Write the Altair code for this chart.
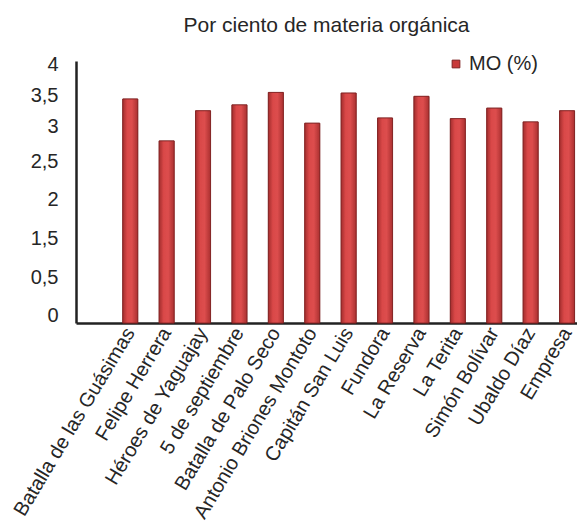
import altair as alt
import pandas as pd

# Organic matter (%) per farm
farms = [
    "Batalla de las Guásimas", "Felipe Herrera", "Héroes de Yaguajay",
    "5 de septiembre", "Batalla de Palo Seco", "Antonio Briones Montoto",
    "Capitán San Luis", "Fundora", "La Reserva", "La Terita",
    "Simón Bolívar", "Ubaldo Díaz", "Empresa",
]
mo_values = [3.42, 2.78, 3.24, 3.33, 3.52, 3.05, 3.51, 3.13, 3.46, 3.12, 3.28, 3.07, 3.24]
series_name = "MO (%)"

# y-axis labels and the values where they sit
ytick_labels = ["0", "0,5", "1,5", "2", "2,5", "3", "3,5", "4"]
ytick_values = [0.12, 0.70, 1.29, 1.88, 2.46, 3.0, 3.48, 3.94]

df = pd.DataFrame({"finca": farms, "mo": mo_values, "serie": series_name})

label_expr = " : ".join(
    f"abs(datum.value - {v}) < 0.001 ? '{t}'" for v, t in zip(ytick_values, ytick_labels)
) + " : ''"

FONT = "Liberation Sans"
TXT = "#262626"

x_enc = alt.X(
    "finca:N",
    sort=farms,
    title=None,
    scale=alt.Scale(paddingInner=0.588, paddingOuter=0.676, align=0.95),
    axis=alt.Axis(
        labelAngle=-59, labelFontSize=20, labelFont=FONT, labelColor=TXT,
        ticks=False, domainColor="#222222", domainWidth=2.5, labelPadding=6,
        labelLimit=400,
    ),
)
y_enc = alt.Y(
    "mo:Q",
    title=None,
    scale=alt.Scale(domain=[0, 4], nice=False, zero=True),
    axis=alt.Axis(
        values=ytick_values, labelExpr=label_expr, grid=False, ticks=False,
        labelFontSize=20, labelFont=FONT, labelColor=TXT,
        domainColor="#222222", domainWidth=2.5, labelPadding=18,
    ),
)

# solid bars carry the legend
base = alt.Chart(df).mark_bar(stroke="#7f2222", strokeWidth=0.8).encode(
    x=x_enc,
    y=y_enc,
    color=alt.Color(
        "serie:N",
        title=None,
        scale=alt.Scale(range=["#c83a3a"]),
        legend=alt.Legend(
            orient="none", legendX=370, legendY=-7, symbolType="square",
            symbolSize=60, symbolStrokeColor="#7f2222", symbolStrokeWidth=1,
            labelFontSize=20, labelFont=FONT, labelColor=TXT, labelOffset=3,
        ),
    ),
)

# shaded overlay giving the bars their rounded look
shade = alt.Chart(df).mark_bar(
    color=alt.Gradient(
        gradient="linear",
        x1=0, x2=1, y1=0, y2=0,
        stops=[
            alt.GradientStop(color="#a02d2d", offset=0),
            alt.GradientStop(color="#dc4a4a", offset=0.3),
            alt.GradientStop(color="#e05050", offset=0.6),
            alt.GradientStop(color="#a83030", offset=1),
        ],
    ),
    stroke="#7f2222",
    strokeWidth=0.8,
    opacity=0.9,
).encode(x=x_enc, y=y_enc)

chart = (
    alt.layer(base, shade)
    .properties(
        width=501,
        height=262,
        autosize=alt.AutoSizeParams(type="none"),
        padding={"left": 76, "top": 61, "right": 0, "bottom": 209},
        title=alt.TitleParams(
            "Por ciento de materia orgánica",
            font=FONT, fontSize=21, fontWeight="normal", color=TXT,
            anchor="middle", frame="group", baseline="alphabetic", offset=1,
        ),
    )
    .configure_view(stroke=None)
)

chart.save("out.html", embed_options={"renderer": "svg", "actions": False})
